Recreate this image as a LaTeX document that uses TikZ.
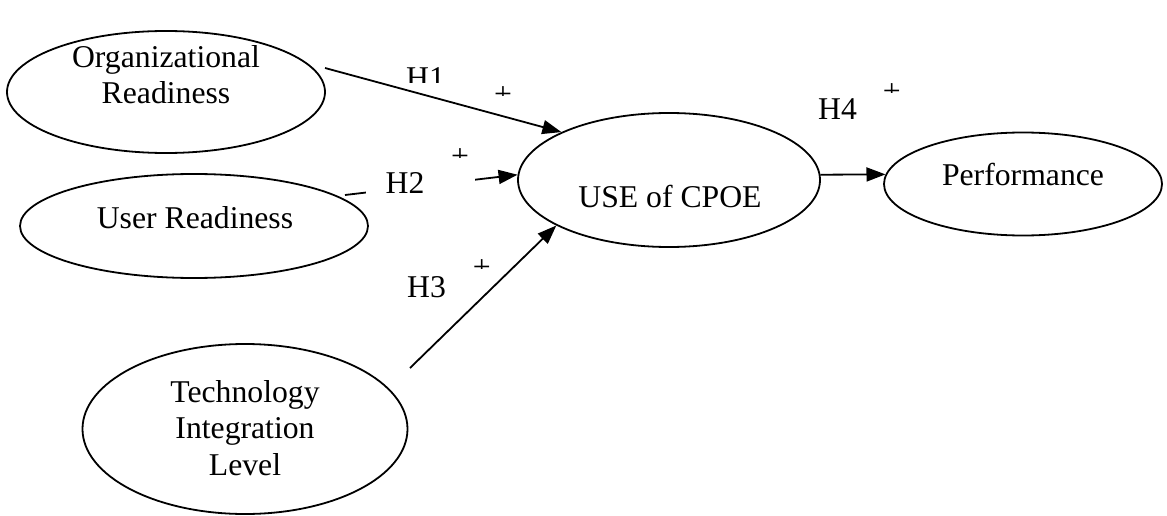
\documentclass[tikz,border=0pt]{standalone}
\usepackage{fontspec}
\setmainfont{Liberation Serif}
\usetikzlibrary{shapes.geometric,arrows.meta}
\begin{document}
\begin{tikzpicture}[x=1pt,y=-1pt,
  oval/.style={draw, ellipse, line width=1.8pt, inner sep=0pt},
  txt/.style={font=\fontsize{31.7}{36.5}\selectfont, align=center, inner sep=0pt, anchor=base},
  arr/.style={line width=1.8pt, -{Triangle[length=19pt,width=14pt]}},
  sign/.style={font=\fontsize{31.7}{36.5}\selectfont, inner sep=0pt, anchor=base},
  ]
\useasboundingbox (0,0) rectangle (1167,516);

% constructs
\node[oval, minimum width=318pt, minimum height=122pt] (org)  at (166,92)  {};
\node[oval, minimum width=348pt, minimum height=104pt] (user) at (194,226) {};
\node[oval, minimum width=325pt, minimum height=170pt] (tech) at (245,429) {};
\node[oval, minimum width=302pt, minimum height=134pt] (use)  at (669,180) {};
\node[oval, minimum width=278pt, minimum height=103pt] (perf) at (1023,184) {};

% construct names (anchored at the baseline of the last line)
\node[txt] (orgT)  at (166,104) {Organizational\\Readiness};
\node[txt] (userT) at (195,228) {User Readiness};
\node[txt] (techT) at (245,475) {Technology\\Integration\\Level};
\node[txt] (useT)  at (670,207) {USE of CPOE};
\node[txt] (perfT) at (1023,185) {Performance};

% free ends of the paths
\coordinate (s1) at (325,68);
\coordinate (s2) at (345,195);
\coordinate (s3) at (410,368);

\draw[arr] (s1) -- (use.156);
\draw[arr] (s2) -- (use.178);
\draw[arr] (s3) -- (use.202.5);
\draw[arr] (use.2) -- (perf.176);

% hypothesis labels
\begin{scope}
  \clip (395,55) rectangle (455,83);
  \node[sign] (h1) at (425.5,89) {H1};
\end{scope}
\node[sign, fill=white, anchor=base west, text width=70pt, align=left,
      inner xsep=19.5pt, inner ysep=2pt] (h2) at (366,193) {H2};
\node[sign] (h3) at (426.5,297) {H3};
\node[sign] (h4) at (837.5,120) {H4};

% plus signs, cut off just under their bars
\begin{scope}
  \clip (490,80) rectangle (520,95.3);
  \node[sign] (p1) at (503,104.2) {+};
\end{scope}
\begin{scope}
  \clip (445,142) rectangle (475,157.3);
  \node[sign] (p2) at (460,166.2) {+};
\end{scope}
\begin{scope}
  \clip (465,253) rectangle (495,268.3);
  \node[sign] (p3) at (481.7,277.2) {+};
\end{scope}
\begin{scope}
  \clip (875,77) rectangle (905,92.3);
  \node[sign] (p4) at (891.7,101.2) {+};
\end{scope}
\end{tikzpicture}
\end{document}
